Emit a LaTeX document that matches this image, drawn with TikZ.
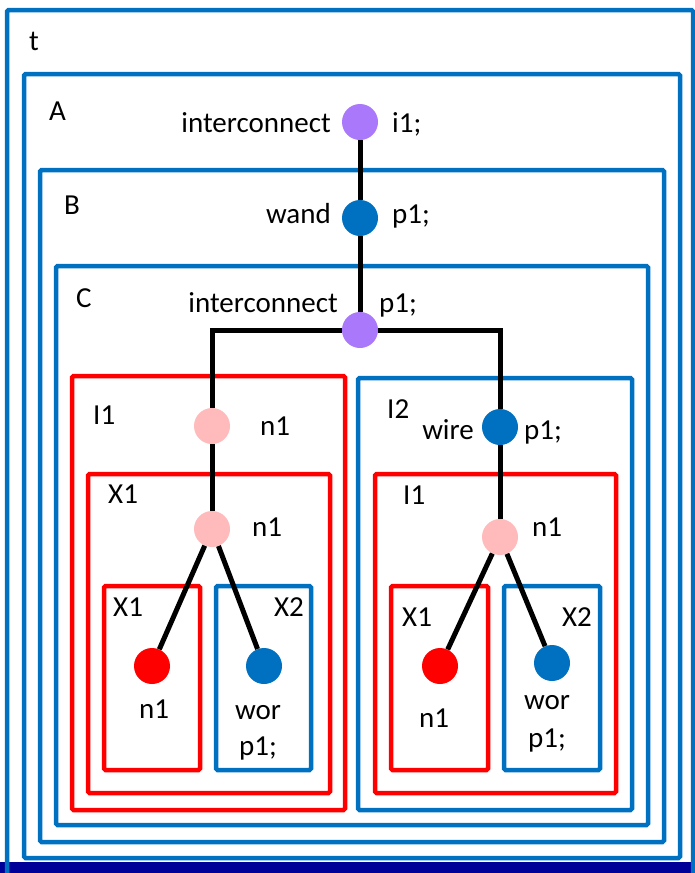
\documentclass[tikz,border=0pt]{standalone}
\usepackage{fontspec}
\setmainfont{Carlito}
\definecolor{mblue}{RGB}{0,112,192}
\definecolor{mred}{RGB}{255,0,0}
\definecolor{mpurple}{RGB}{170,120,250}
\definecolor{mpink}{RGB}{255,187,187}
\definecolor{mnavy}{RGB}{0,0,153}
\tikzset{
  bluebox/.style={draw=mblue, line width=4.5pt, rounded corners=1.5pt},
  redbox/.style={draw=mred, line width=4.5pt, rounded corners=1.5pt},
  dot/.style={circle, minimum size=36pt, inner sep=0pt, draw=none},
  wirelink/.style={draw=black, line width=5pt},
  lbl/.style={inner sep=0pt, font=\fontsize{29}{34}\selectfont},
}
\begin{document}
\begin{tikzpicture}[x=1pt,y=-1pt]
\useasboundingbox (0,0) rectangle (695,873);
\fill[white] (0,0) rectangle (695,873);

% bottom band
\fill[mnavy] (0,862) rectangle (695,873);

% module boxes
\draw[bluebox] (7,873) -- (7,10) -- (693,10) -- (693,873);
\draw[bluebox] (24,74) rectangle (680,858);
\draw[bluebox] (40,170) rectangle (664,842);
\draw[bluebox] (56,266) rectangle (648,825);
\draw[redbox]  (72,376) rectangle (345,810);
\draw[bluebox] (358,378) rectangle (632,810);
\draw[redbox]  (88,474) rectangle (330,793);
\draw[redbox]  (375,474) rectangle (616,793);
\draw[redbox]  (104,586) rectangle (200,770);
\draw[bluebox] (216,586) rectangle (311,770);
\draw[redbox]  (391,586) rectangle (488,770);
\draw[bluebox] (504,586) rectangle (600,770);

% box names
\node[lbl, anchor=base west] (nt) at (29,50) {t};
\node[lbl, anchor=base west] (nA) at (49,120) {A};
\node[lbl, anchor=base west] (nB) at (64,214) {B};
\node[lbl, anchor=base west] (nC) at (76,307) {C};
\node[lbl, anchor=base west] (nI1) at (93,424) {I1};
\node[lbl, anchor=base west] (nX1) at (108,503) {X1};
\node[lbl, anchor=base west] (nI2) at (387,418) {I2};
\node[lbl, anchor=base west] (nI1r) at (403,504) {I1};
\node[lbl, anchor=base west] (nX1a) at (113,616) {X1};
\node[lbl, anchor=base east] (nX2a) at (304,616) {X2};
\node[lbl, anchor=base west] (nX1b) at (402,626) {X1};
\node[lbl, anchor=base east] (nX2b) at (592,626) {X2};

% nets
\node[dot, fill=mpurple] (i1) at (360,122) {};
\node[dot, fill=mblue]   (wand) at (360,218) {};
\node[dot, fill=mpurple] (cp1) at (360,330) {};
\node[dot, fill=mpink]   (ln1) at (212,426) {};
\node[dot, fill=mpink]   (lx1) at (212,529) {};
\node[dot, fill=mred]    (lr) at (152,666) {};
\node[dot, fill=mblue]   (lb) at (264,666) {};
\node[dot, fill=mblue]   (wire) at (500,427) {};
\node[dot, fill=mpink]   (rn1) at (500,537) {};
\node[dot, fill=mred]    (rr) at (440,666) {};
\node[dot, fill=mblue]   (rb) at (552,663) {};

% net declarations
\node[lbl, anchor=base east] (t1) at (331,132) {interconnect};
\node[lbl, anchor=base west] (t2) at (392,132) {i1;};
\node[lbl, anchor=base east] (t3) at (331,223) {wand};
\node[lbl, anchor=base west] (t4) at (392,223) {p1;};
\node[lbl, anchor=base east] (t5) at (338,312) {interconnect};
\node[lbl, anchor=base west] (t6) at (379,312) {p1;};
\node[lbl, anchor=base west] (t7) at (260,435) {n1};
\node[lbl, anchor=base west] (t8) at (252,536) {n1};
\node[lbl, anchor=base east] (t9) at (474,439) {wire};
\node[lbl, anchor=base west] (t10) at (524,439) {p1;};
\node[lbl, anchor=base west] (t11) at (532,536) {n1};
\node[lbl, anchor=base] (t12) at (154,718) {n1};
\node[lbl, anchor=base] (t13) at (258,719) {wor};
\node[lbl, anchor=base] (t14) at (258,755) {p1;};
\node[lbl, anchor=base] (t15) at (434,727) {n1};
\node[lbl, anchor=base] (t16) at (547,709) {wor};
\node[lbl, anchor=base] (t17) at (547,747) {p1;};

% connections
\draw[wirelink] (i1) -- (wand);
\draw[wirelink] (wand) -- (cp1);
\draw[wirelink] (cp1) -| (ln1);
\draw[wirelink] (cp1) -| (wire);
\draw[wirelink] (ln1) -- (lx1);
\draw[wirelink] (lx1) -- (lr);
\draw[wirelink] (lx1) -- (lb);
\draw[wirelink] (wire) -- (rn1);
\draw[wirelink] (rn1) -- (rr);
\draw[wirelink] (rn1) -- (rb);
\end{tikzpicture}
\end{document}
